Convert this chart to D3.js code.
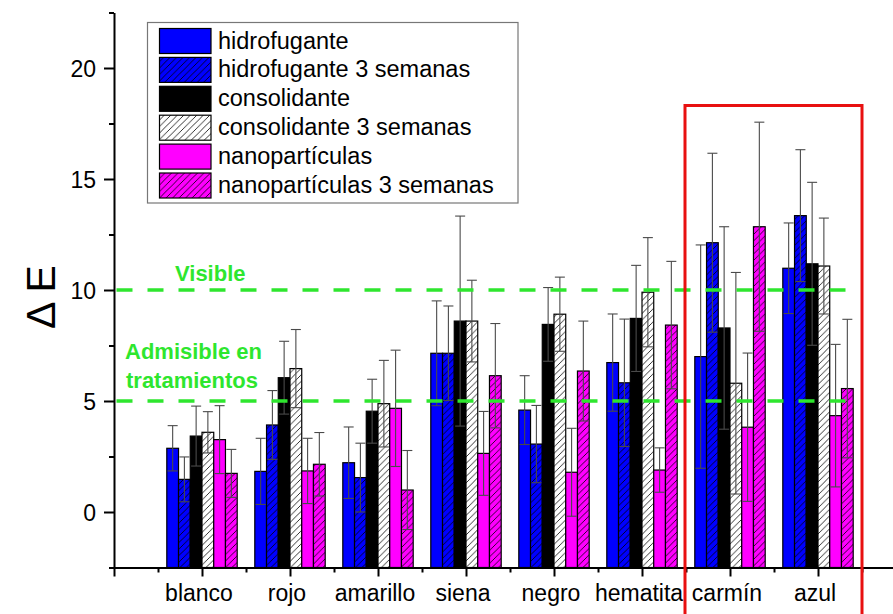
<!DOCTYPE html>
<html>
<head>
<meta charset="utf-8">
<script src="https://cdn.jsdelivr.net/npm/d3@7"></script>
<style>
  body { margin: 0; background: #fff; }
  svg text { font-family: "Liberation Sans", Arial, sans-serif; }
</style>
</head>
<body>
<div id="chart"></div>
<script>
'use strict';

const width = 893;
const height = 614;

// categories (x axis)
const categories = ['blanco', 'rojo', 'amarillo', 'siena', 'negro', 'hematita', 'carmín', 'azul'];

// series names (legend order)
const seriesNames = [
    'hidrofugante',
    'hidrofugante 3 semanas',
    'consolidante',
    'consolidante 3 semanas',
    'nanopartículas',
    'nanopartículas 3 semanas'
];

// mean values, one per category
const hidrofugante = [2.87, 1.83, 2.22, 7.15, 4.59, 6.73, 7.00, 10.98];
const hidrofugante3 = [1.47, 3.92, 1.55, 7.15, 3.06, 5.82, 12.13, 13.35];
const consolidante = [3.42, 6.05, 4.54, 8.60, 8.45, 8.72, 8.29, 11.18];
const consolidante3 = [3.59, 6.46, 4.88, 8.60, 8.91, 9.90, 5.80, 11.08];
const nanoparticulas = [3.26, 1.85, 4.67, 2.64, 1.79, 1.89, 3.82, 4.34];
const nanoparticulas3 = [1.74, 2.15, 0.99, 6.14, 6.35, 8.42, 12.85, 5.56];

// error bars (+/-)
const errHidrofugante = [1.02, 1.49, 1.61, 2.36, 1.55, 2.19, 5.03, 2.04];
const errHidrofugante3 = [1.01, 1.55, 1.55, 2.13, 1.74, 2.87, 4.03, 2.97];
const errConsolidante = [1.35, 1.64, 1.44, 4.73, 1.66, 2.39, 4.56, 3.67];
const errConsolidante3 = [0.93, 1.76, 1.95, 1.84, 1.67, 2.46, 4.99, 2.16];
const errNanoparticulas = [1.53, 1.47, 2.62, 1.89, 1.98, 1.00, 3.34, 3.21];
const errNanoparticulas3 = [1.08, 1.43, 1.78, 2.35, 2.25, 2.87, 4.71, 3.12];

// y tick labels
const yMajorTicks = [0, 5, 10, 15, 20];
const yMinorTicks = [-2.5, 2.5, 7.5, 12.5, 17.5, 22.5];

// reference lines
const thresholds = [10, 5];

const values = [hidrofugante, hidrofugante3, consolidante, consolidante3, nanoparticulas, nanoparticulas3];
const errors = [errHidrofugante, errHidrofugante3, errConsolidante, errConsolidante3, errNanoparticulas, errNanoparticulas3];

const fills = ['#0000ff', '#0000ff', '#000000', '#ffffff', '#ff00ff', '#ff00ff'];
const hatched = [false, true, false, true, false, true];
const green = '#2ee62e';

const x = d3.scaleLinear().domain([0, 9]).range([114, 114 + 9 * 88]);
const y = d3.scaleLinear().domain([-2.5, 22.5]).range([567.5, 12.5]);

const groupWidth = 0.8;
const barWidth = groupWidth / seriesNames.length;

const svg = d3.select('#chart').append('svg')
    .attr('width', width)
    .attr('height', height);

svg.append('rect')
    .attr('width', width)
    .attr('height', height)
    .attr('fill', '#fff');

// hatch patterns
const defs = svg.append('defs');
function hatchId(i) { return 'hatch' + i; }
fills.forEach((c, i) => {
    if (!hatched[i]) return;
    const p = defs.append('pattern')
        .attr('id', hatchId(i))
        .attr('patternUnits', 'userSpaceOnUse')
        .attr('width', 6.5)
        .attr('height', 6.5);
    p.append('rect').attr('width', 6.5).attr('height', 6.5).attr('fill', c);
    p.append('path')
        .attr('d', 'M-1,1 l2,-2 M0,6.5 l6.5,-6.5 M5.5,7.5 l2,-2')
        .attr('stroke', '#000')
        .attr('stroke-width', 0.8);
});
function fillFor(i) {
    return hatched[i] ? 'url(#' + hatchId(i) + ')' : fills[i];
}

// bars
const bars = [];
values.forEach((vals, s) => {
    vals.forEach((v, c) => {
        bars.push({s: s, c: c, v: v, e: errors[s][c]});
    });
});

const xStart = d => (d.c + 1) - groupWidth / 2 + d.s * barWidth;

svg.append('g').selectAll('rect').data(bars)
    .enter().append('rect')
    .attr('x', d => x(xStart(d)))
    .attr('y', d => y(d.v))
    .attr('width', d => x(xStart(d) + barWidth) - x(xStart(d)))
    .attr('height', d => y(-2.5) - y(d.v))
    .attr('fill', d => fillFor(d.s))
    .attr('stroke', '#000')
    .attr('stroke-width', 1.2);

// error bars
const eg = svg.append('g').attr('stroke', '#4a4a4a').attr('stroke-width', 1.1);
bars.forEach(d => {
    const cx = x(xStart(d) + barWidth / 2);
    const capHalf = 5;
    eg.append('line').attr('x1', cx).attr('x2', cx).attr('y1', y(d.v + d.e)).attr('y2', y(d.v - d.e));
    eg.append('line').attr('x1', cx - capHalf).attr('x2', cx + capHalf).attr('y1', y(d.v + d.e)).attr('y2', y(d.v + d.e));
    eg.append('line').attr('x1', cx - capHalf).attr('x2', cx + capHalf).attr('y1', y(d.v - d.e)).attr('y2', y(d.v - d.e));
});

// dashed threshold lines
svg.append('g').selectAll('line').data(thresholds)
    .enter().append('line')
    .attr('x1', 116.5)
    .attr('x2', 858)
    .attr('y1', d => y(d))
    .attr('y2', d => y(d))
    .attr('stroke', green)
    .attr('stroke-width', 3.5)
    .attr('stroke-dasharray', '16,15');

// threshold labels
const labels = svg.append('g')
    .attr('fill', green)
    .attr('font-weight', 'bold')
    .attr('font-size', '22px');
labels.append('text').attr('x', 175).attr('y', 281).text('Visible');
labels.append('text').attr('x', 125).attr('y', 359).text('Admisible en');
labels.append('text').attr('x', 126).attr('y', 388).text('tratamientos');

// y axis
const yAxis = svg.append('g').attr('transform', 'translate(' + x(0) + ',0)');
yAxis.call(d3.axisLeft(y).tickValues(yMinorTicks).tickSize(5).tickSizeOuter(0).tickFormat(''));
yAxis.call(g => g.select('.domain').remove());
const yMajor = svg.append('g').attr('transform', 'translate(' + x(0) + ',0)')
    .call(d3.axisLeft(y).tickValues(yMajorTicks).tickSize(10).tickSizeOuter(0).tickPadding(8).tickFormat(d3.format('d')));
yMajor.selectAll('text')
    .attr('font-size', '23px')
    .attr('fill', '#000')
    .attr('dy', '0.36em');

// x axis
const xAxis = svg.append('g').attr('transform', 'translate(0,' + y(-2.5) + ')');
xAxis.call(d3.axisBottom(x).tickValues(d3.range(0.5, 9, 1)).tickSize(5).tickSizeOuter(0).tickFormat(''));
xAxis.call(g => g.select('.domain').remove());
svg.append('g').attr('transform', 'translate(0,' + y(-2.5) + ')')
    .call(d3.axisBottom(x).tickValues(d3.range(0, 10)).tickSize(9).tickSizeOuter(0).tickFormat(''));

svg.selectAll('.tick line').attr('stroke', '#000').attr('stroke-width', 2);
svg.selectAll('.domain').attr('stroke', '#000').attr('stroke-width', 2);

// category labels
svg.append('g').selectAll('text').data(categories)
    .enter().append('text')
    .attr('x', (d, i) => x(i + 1) - 3)
    .attr('y', 601)
    .attr('text-anchor', 'middle')
    .attr('font-size', '23px')
    .text(d => d);

// y axis title
svg.append('text')
    .attr('transform', 'translate(41,297) rotate(-90)')
    .attr('text-anchor', 'middle')
    .attr('dominant-baseline', 'central')
    .attr('font-size', '41px')
    .text('Δ E');

// legend
const legend = svg.append('g');
legend.append('rect')
    .attr('x', 147.5).attr('y', 22.5)
    .attr('width', 370.5).attr('height', 180.5)
    .attr('fill', '#fff')
    .attr('stroke', '#777')
    .attr('stroke-width', 1.2);
const rowH = 28.9;
seriesNames.forEach((name, i) => {
    legend.append('rect')
        .attr('x', 159.5).attr('y', 28.5 + i * rowH)
        .attr('width', 51.5).attr('height', 25)
        .attr('fill', fillFor(i))
        .attr('stroke', '#000')
        .attr('stroke-width', 1.2);
    legend.append('text')
        .attr('x', 218)
        .attr('y', 48.5 + i * rowH)
        .attr('font-size', '23.5px')
        .text(name);
});

// highlight box
svg.append('rect')
    .attr('x', 685).attr('y', 105.5)
    .attr('width', 177).attr('height', 540)
    .attr('fill', 'none')
    .attr('stroke', '#e81010')
    .attr('stroke-width', 3);
</script>
</body>
</html>
